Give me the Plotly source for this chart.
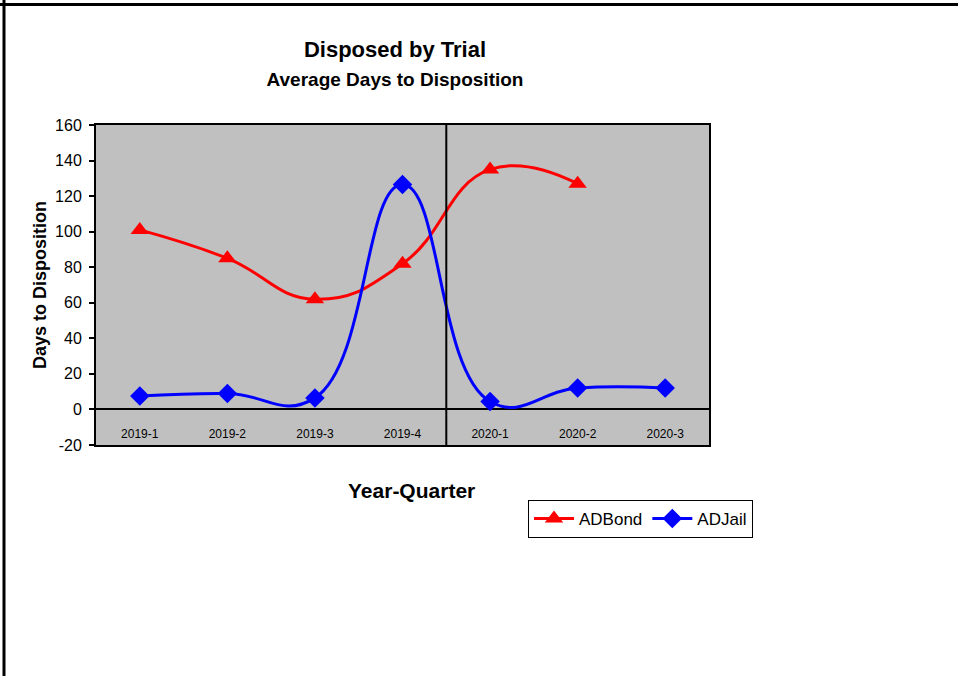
import plotly.graph_objects as go

quarters = ["2019-1", "2019-2", "2019-3", "2019-4", "2020-1", "2020-2", "2020-3"]
ad_bond = [101, 85, 62, 82, 135, 127, None]
ad_jail = [7.5, 9, 6.5, 126.5, 4.5, 12, 12]
y_ticks = [-20, 0, 20, 40, 60, 80, 100, 120, 140, 160]
y_tick_labels = ["-20", "0", "20", "40", "60", "80", "100", "120", "140", "160"]

FONT = "Liberation Sans, Arial, sans-serif"

fig = go.Figure()
fig.add_trace(go.Scatter(
    x=quarters, y=ad_bond, name="ADBond", mode="lines+markers",
    line=dict(color="#FF0000", width=3, shape="spline", smoothing=1.3),
    marker=dict(symbol="triangle-up", size=16, color="#FF0000"),
))
fig.add_trace(go.Scatter(
    x=quarters, y=ad_jail, name="ADJail", mode="lines+markers",
    line=dict(color="#0000FF", width=3, shape="spline", smoothing=1.3),
    marker=dict(symbol="diamond", size=15, color="#0000FF"),
))
# invisible carrier for the category labels axis (drawn inside the plot box)
fig.add_trace(go.Scatter(
    x=quarters, y=[None] * len(quarters), xaxis="x2", yaxis="y",
    showlegend=False, hoverinfo="skip", mode="markers",
))

# vertical divider between 2019 and 2020
fig.add_shape(type="line", xref="x", yref="y", x0=3.5, x1=3.5, y0=-20, y1=160,
              line=dict(color="black", width=2), layer="above")

# outer page frame (top and left edges)
L, R, T, B = 96, 249, 125, 231
W, H = 958, 676
pw, ph = W - L - R, H - T - B
def px(xp): return (xp - L) / pw
def py(yp): return (H - B - yp) / ph
fig.add_shape(type="line", xref="paper", yref="paper", x0=px(0), x1=px(W), y0=py(4.5), y1=py(4.5),
              line=dict(color="black", width=3))
fig.add_shape(type="line", xref="paper", yref="paper", x0=px(4), x1=px(4), y0=py(0), y1=py(H),
              line=dict(color="black", width=3))

fig.add_annotation(text="<b>Year-Quarter</b>", xref="paper", yref="paper",
                   x=px(411), y=py(490), xanchor="center", yanchor="middle",
                   showarrow=False, font=dict(size=21, family=FONT, color="black"))

fig.update_layout(
    width=W, height=H,
    margin=dict(l=L, r=R, t=T, b=B),
    paper_bgcolor="white",
    plot_bgcolor="#C0C0C0",
    font=dict(family=FONT, color="black"),
    title=dict(
        text="<b>Disposed by Trial</b><br><span style='font-size:19px'><b>Average Days to Disposition</b></span>",
        x=px(395), xanchor="center", xref="paper", y=1 - 57 / H, yanchor="middle",
        font=dict(size=22, family=FONT),
    ),
    showlegend=True,
    legend=dict(
        orientation="h", x=px(528), y=py(500), xanchor="left", yanchor="top",
        bgcolor="white", bordercolor="black", borderwidth=1,
        font=dict(size=17, family=FONT), itemwidth=40,
    ),
    xaxis=dict(
        type="category", range=[-0.5, 6.5], showgrid=False, zeroline=False,
        showline=True, linecolor="black", linewidth=2, mirror=True,
        ticks="", showticklabels=False,
    ),
    xaxis2=dict(
        type="category", range=[-0.5, 6.5], overlaying="x", matches="x",
        anchor="free", position=(445 - 425) / 320, side="bottom",
        showgrid=False, zeroline=False, showline=False, ticks="",
        tickfont=dict(size=12, family=FONT, color="black"),
    ),
    yaxis=dict(
        range=[-20, 160], tickvals=y_ticks, ticktext=y_tick_labels, showgrid=False,
        zeroline=True, zerolinecolor="black", zerolinewidth=2,
        showline=True, linecolor="black", linewidth=2, mirror=True,
        ticks="outside", ticklen=5, tickcolor="black", tickwidth=2,
        ticklabelstandoff=4,
        tickfont=dict(size=16, family=FONT, color="black"),
        title=dict(text="<b>Days to Disposition</b>", font=dict(size=18, family=FONT), standoff=4),
    ),
)

fig.write_html("out.html", config={"displayModeBar": False},
               post_script="document.body.style.margin='0';")
